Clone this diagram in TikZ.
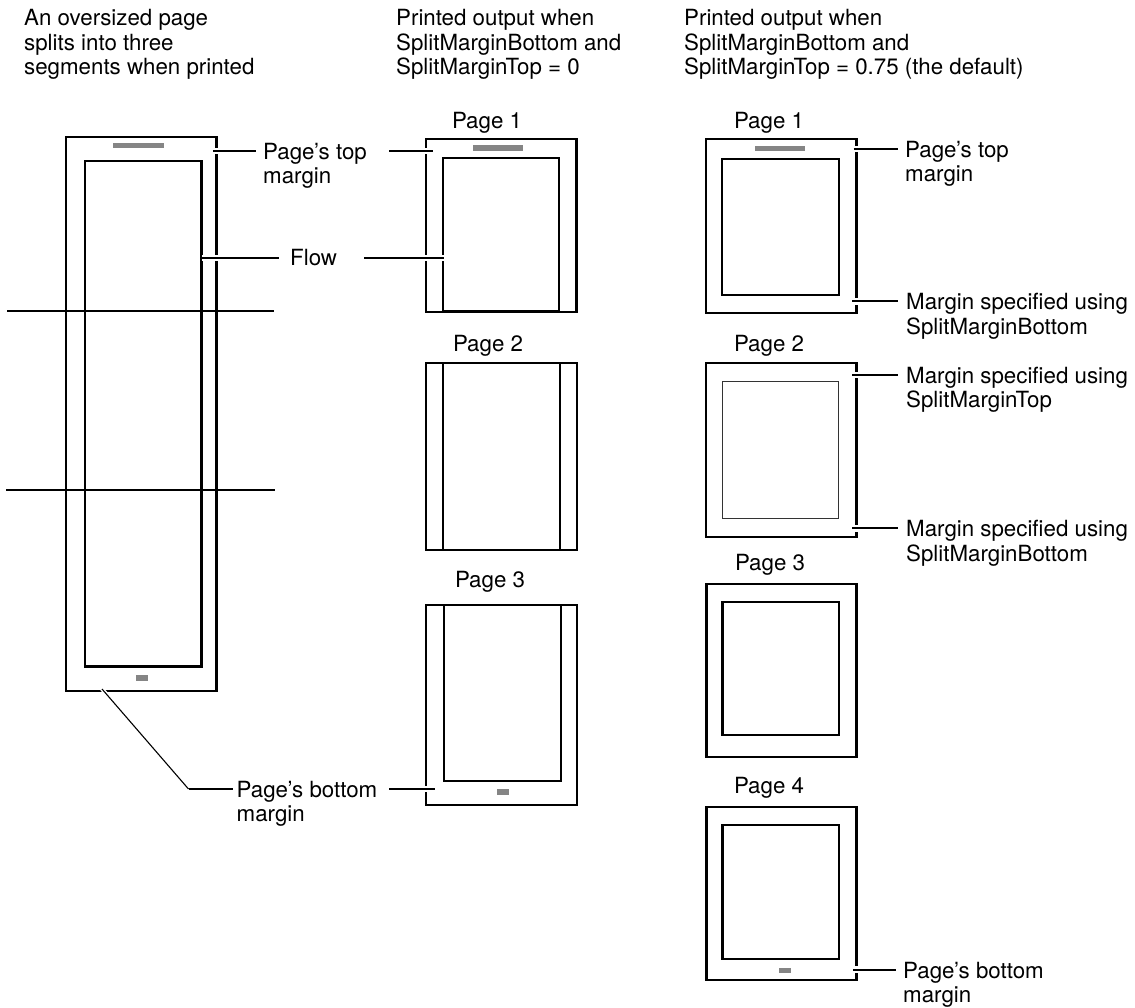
\documentclass[tikz,border=0pt]{standalone}
\usepackage{fontspec}
\setmainfont{TeX Gyre Heros}
\definecolor{bargray}{HTML}{858585}
\begin{document}
\begin{tikzpicture}[x=1pt,y=-1pt,
  pg/.style={draw=black,line width=2.1pt},
  thinpg/.style={draw=black!80,line width=0.9pt},
  bar/.style={fill=bargray,draw=none},
  conn/.style={draw=black,line width=1.9pt,preaction={draw=white,line width=6.5pt}},
  diag/.style={draw=black,line width=1.1pt,preaction={draw=white,line width=4pt}},
  cut/.style={draw=black,line width=1.9pt},
  lbl/.style={font=\fontsize{22.3}{24.3}\selectfont,inner sep=0pt,align=left,anchor=north west},
  ptitle/.style={font=\fontsize{22.3}{24.3}\selectfont,inner sep=0pt,anchor=base}]
\useasboundingbox (0,0) rectangle (1135,1008);

% headers
\node[lbl] (h1) at (24,9.5) {An oversized page\\splits into three\\segments when printed};
\node[lbl] (h2) at (396,9.5) {Printed output when\\SplitMarginBottom and\\SplitMarginTop = 0};
\node[lbl] (h3) at (684,9.5) {Printed output when\\SplitMarginBottom and\\SplitMarginTop = 0.75 (the default)};

% ---- left oversized page
\draw[pg] (66,137) rectangle (216.5,691);
\draw[pg] (85,161) rectangle (201.5,666.5);
\fill[bar] (113,143.5) rectangle (164,148.5);
\fill[bar] (136,674.5) rectangle (148,680.5);
\draw[cut] (7,311) -- (274,311);
\draw[cut] (6,490) -- (275,490);

% ---- middle column
\node[ptitle] (m1t) at (487,128.3) {Page 1};
\draw[pg] (426,139) rectangle (576.5,312.3);
\draw[pg] (443,158) rectangle (559,311.5);
\fill[bar] (473,145) rectangle (523,150.7);

\node[ptitle] (m2t) at (488,351.7) {Page 2};
\draw[pg] (426,363) rectangle (577,550.4);
\draw[pg] (443,363) -- (443,550.4);
\draw[pg] (560,363) -- (560,550.4);

\node[ptitle] (m3t) at (490,587.5) {Page 3};
\draw[pg] (426,604.6) rectangle (577,805);
\draw[pg] (444,604.6) rectangle (561,780.8);
\fill[bar] (496.5,789) rectangle (508.5,795.4);

% ---- right column
\node[ptitle] (r1t) at (769,128.3) {Page 1};
\draw[pg] (706,139) rectangle (856.5,312.7);
\draw[pg] (722,159) rectangle (839,294.7);
\fill[bar] (755,145.7) rectangle (805,150.7);

\node[ptitle] (r2t) at (769,351.7) {Page 2};
\draw[pg] (706,363.3) rectangle (856.5,536.7);
\draw[thinpg] (722,381) rectangle (838.5,518.3);

\node[ptitle] (r3t) at (770,570) {Page 3};
\draw[pg] (706.5,584.3) rectangle (856.5,757.3);
\draw[pg] (722.5,602.3) rectangle (839,735.3);

\node[ptitle] (r4t) at (769,793.3) {Page 4};
\draw[pg] (706.5,807.3) rectangle (856.5,980.3);
\draw[pg] (722.5,825) rectangle (839,959);
\fill[bar] (779,968.3) rectangle (791,973.3);

% ---- labels and connectors
\node[lbl] (ltop) at (263,143) {Page’s top\\margin};
\coordinate (ltopA) at (213,151);
\coordinate (ltopB) at (256,151);
\coordinate (ltopC) at (389,151);
\coordinate (ltopD) at (432.5,151);
\draw[conn] (ltopA) -- (ltopB);
\draw[conn] (ltopC) -- (ltopD);

\node[font=\fontsize{22.3}{24.3}\selectfont,inner sep=0pt,anchor=west] (flow) at (290,258) {Flow};
\coordinate (flowA) at (202,258);
\coordinate (flowB) at (279,258);
\coordinate (flowC) at (364,258);
\coordinate (flowD) at (443.5,258);
\draw[conn] (flowA) -- (flowB);
\draw[conn] (flowC) -- (flowD);

\node[lbl] (lbot) at (236.5,781) {Page’s bottom\\margin};
\coordinate (lbotA) at (102,689);
\coordinate (lbotK) at (188.5,789);
\coordinate (lbotB) at (232.5,789);
\coordinate (lbotC) at (389,789);
\coordinate (lbotD) at (435,789);
\draw[diag] (lbotA) -- (lbotK);
\draw[conn] (lbotK) -- (lbotB);
\draw[conn] (lbotC) -- (lbotD);

\node[lbl] (rtop) at (905,141) {Page’s top\\margin};
\coordinate (rtopA) at (853.5,149);
\coordinate (rtopB) at (898.3,149);
\draw[conn] (rtopA) -- (rtopB);

\node[lbl] (rmb1) at (906,293.3) {Margin specified using\\SplitMarginBottom};
\coordinate (rmb1A) at (852.3,301.3);
\coordinate (rmb1B) at (898.3,301.3);
\draw[conn] (rmb1A) -- (rmb1B);

\node[lbl] (rmt) at (906,367) {Margin specified using\\SplitMarginTop};
\coordinate (rmtA) at (852.3,375);
\coordinate (rmtB) at (898.3,375);
\draw[conn] (rmtA) -- (rmtB);

\node[lbl] (rmb2) at (906,520.3) {Margin specified using\\SplitMarginBottom};
\coordinate (rmb2A) at (852.3,528.3);
\coordinate (rmb2B) at (898.3,528.3);
\draw[conn] (rmb2A) -- (rmb2B);

\node[lbl] (rbot) at (903,961.7) {Page’s bottom\\margin};
\coordinate (rbotA) at (853.3,969.7);
\coordinate (rbotB) at (895.7,969.7);
\draw[conn] (rbotA) -- (rbotB);
\end{tikzpicture}
\end{document}
